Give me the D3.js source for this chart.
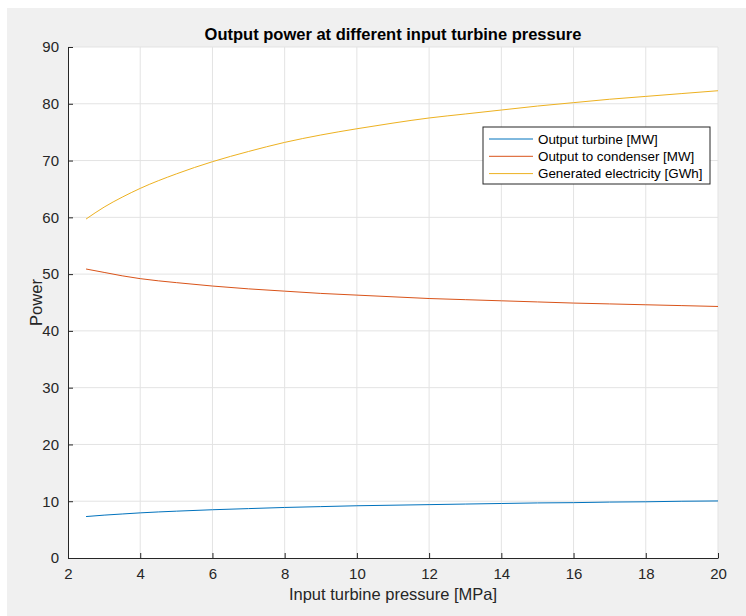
<!DOCTYPE html>
<html lang='en'>
<head>
  <meta charset='utf-8'/>
  <title>Output power at different input turbine pressure</title>
  <script src='https://d3js.org/d3.v7.min.js'></script>
  <style>
    body{margin:0;background:#ffffff;font-family:'Liberation Sans',Arial,sans-serif;}
    svg{display:block;}
  </style>
</head>
<body>
<svg id='chart'></svg>
<script>
// Data
const pressure   = [2.5, 3, 3.5, 4, 5, 6, 7, 8, 9, 10, 11, 12, 13, 14, 15, 16, 17, 18, 19, 20];
const turbine    = [7.3, 7.55, 7.75, 7.95, 8.25, 8.5, 8.7, 8.9, 9.05, 9.2, 9.3, 9.4, 9.5, 9.6, 9.7, 9.75, 9.85, 9.9, 10.0, 10.05];
const condenser  = [50.9, 50.3, 49.7, 49.2, 48.5, 47.9, 47.4, 47.0, 46.6, 46.3, 46.0, 45.7, 45.5, 45.3, 45.1, 44.9, 44.75, 44.6, 44.45, 44.3];
const electric   = [59.7, 61.8, 63.55, 65.1, 67.65, 69.8, 71.6, 73.2, 74.5, 75.6, 76.6, 77.5, 78.2, 78.9, 79.6, 80.2, 80.8, 81.3, 81.8, 82.3];
const seriesNames = ['Output turbine [MW]', 'Output to condenser [MW]', 'Generated electricity [GWh]'];
const xTicks = [2, 4, 6, 8, 10, 12, 14, 16, 18, 20];
const yTicks = [0, 10, 20, 30, 40, 50, 60, 70, 80, 90];

const W = 746, H = 616;
const margin = {top: 47, right: 28, bottom: 58, left: 68};
const width  = W - margin.left - margin.right;
const height = H - margin.top - margin.bottom;

const svg = d3.select('#chart').attr('width', W).attr('height', H);

// figure background (MATLAB grey)
svg.append('rect').attr('x', 7).attr('y', 8).attr('width', W - 7).attr('height', H - 8).attr('fill', '#f0f0f0');

const g = svg.append('g').attr('transform', `translate(${margin.left},${margin.top})`);
g.append('rect').attr('width', width).attr('height', height).attr('fill', '#ffffff');

const x = d3.scaleLinear().domain([2, 20]).range([0, width]);
const y = d3.scaleLinear().domain([0, 90]).range([height, 0]);
const color = d3.scaleOrdinal().domain(seriesNames).range(['#0072BD', '#D95319', '#EDB120']);

// grid
g.append('g').selectAll('line').data(xTicks.slice(1)).join('line')
  .attr('x1', d => x(d)).attr('x2', d => x(d)).attr('y1', 0).attr('y2', height)
  .attr('stroke', '#e3e3e3').attr('stroke-width', 1);
g.append('g').selectAll('line').data(yTicks.slice(1)).join('line')
  .attr('x1', 0).attr('x2', width).attr('y1', d => y(d)).attr('y2', d => y(d))
  .attr('stroke', '#e3e3e3').attr('stroke-width', 1);

// axes (ticks pointing inward, like MATLAB)
const xAxis = g.append('g').attr('transform', `translate(0,${height})`)
  .call(d3.axisBottom(x).tickValues(xTicks).tickSizeInner(-5).tickSizeOuter(0).tickPadding(10));
const yAxis = g.append('g')
  .call(d3.axisLeft(y).tickValues(yTicks).tickSizeInner(-5).tickSizeOuter(0).tickPadding(9));
[xAxis, yAxis].forEach(a => {
  a.select('.domain').attr('stroke', '#262626');
  a.selectAll('.tick line').attr('stroke', '#262626');
  a.selectAll('.tick text').attr('fill', '#262626').style('font-size', '15px')
    .style('font-family', "'Liberation Sans', Arial, sans-serif");
});

// lines
const line = d3.line().x(d => x(d[0])).y(d => y(d[1])).curve(d3.curveMonotoneX);
const series = [turbine, condenser, electric].map((vals, i) => ({
  name: seriesNames[i],
  values: pressure.map((p, j) => [p, vals[j]])
}));
g.selectAll('.series').data(series).join('path')
  .attr('class', 'series')
  .attr('fill', 'none')
  .attr('stroke', d => color(d.name))
  .attr('stroke-width', 1)
  .attr('d', d => line(d.values));

// title and labels
svg.append('text').attr('x', margin.left + width / 2).attr('y', 40)
  .attr('text-anchor', 'middle').attr('fill', '#000')
  .style('font-size', '16.5px').style('font-weight', 'bold')
  .text('Output power at different input turbine pressure');
svg.append('text').attr('x', margin.left + width / 2).attr('y', 600)
  .attr('text-anchor', 'middle').attr('fill', '#262626')
  .style('font-size', '16.5px')
  .text('Input turbine pressure [MPa]');
svg.append('text').attr('transform', `translate(42,${margin.top + height / 2}) rotate(-90)`)
  .attr('text-anchor', 'middle').attr('fill', '#262626')
  .style('font-size', '16.5px')
  .text('Power');

// legend
const lg = svg.append('g').attr('transform', 'translate(483,127)');
lg.append('rect').attr('width', 227).attr('height', 57)
  .attr('fill', '#ffffff').attr('stroke', '#262626').attr('stroke-width', 1);
const rows = lg.selectAll('.row').data(seriesNames).join('g')
  .attr('class', 'row')
  .attr('transform', (d, i) => `translate(0,${12 + i * 17.3})`);
rows.append('line').attr('x1', 6).attr('x2', 50).attr('y1', 0).attr('y2', 0)
  .attr('stroke', d => color(d)).attr('stroke-width', 1);
rows.append('text').attr('x', 55).attr('y', 4.5).attr('fill', '#000')
  .style('font-size', '13.4px').text(d => d);
</script>
</body>
</html>
